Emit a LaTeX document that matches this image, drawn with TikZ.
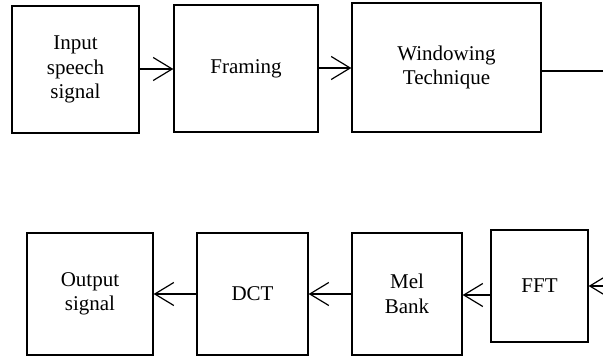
\documentclass[tikz,border=0pt]{standalone}
\usepackage{fontspec}
\setmainfont{Liberation Serif}
\usetikzlibrary{arrows.meta}
\tikzset{
  block/.style={draw, line width=1.3pt, inner sep=0pt, align=center,
    font=\fontsize{21}{24.5}\selectfont},
  flow/.style={line width=1.2pt, -{Straight Barb[length=19pt,width=23pt,line width=1.2pt]}},
  wire/.style={line width=1.2pt}
}
\begin{document}
\begin{tikzpicture}[x=1pt,y=1pt]
  \useasboundingbox (0,0) rectangle (603,356);
  % upper row
  \node[block, minimum width=127pt, minimum height=127pt] (inp) at (75.5,286.5) {Input\\speech\\signal};
  \node[block, minimum width=144pt, minimum height=127pt] (frm) at (246,287.5) {Framing};
  \node[block, minimum width=189pt, minimum height=129pt] (win) at (446.5,288.5) {Windowing\\Technique};
  \coordinate (outR) at (603,285);
  % lower row
  \node[block, minimum width=126pt, minimum height=122pt] (out) at (90,62) {Output\\signal};
  \node[block, minimum width=111pt, minimum height=122pt] (dct) at (252.5,62) {DCT};
  \node[block, minimum width=110pt, minimum height=122pt] (mel) at (407,62) {Mel\\Bank};
  \node[block, minimum width=97pt, minimum height=112pt] (fft) at (539.5,70) {FFT};
  \coordinate (inR) at (614,70);
  % connectors
  \draw[flow] (inp.east |- 0,287) -- (frm.west |- 0,287);
  \draw[flow] (frm.east |- 0,288) -- (win.west |- 0,288);
  \draw[wire] (win.east |- outR) -- (outR);
  \begin{scope}
    \clip (0,0) rectangle (603,356);
    \draw[flow] (inR) -- (fft.east);
  \end{scope}
  \draw[flow] (fft.west |- 0,61) -- (mel.east |- 0,61);
  \draw[flow] (mel.west) -- (dct.east);
  \draw[flow] (dct.west) -- (out.east);
\end{tikzpicture}
\end{document}
